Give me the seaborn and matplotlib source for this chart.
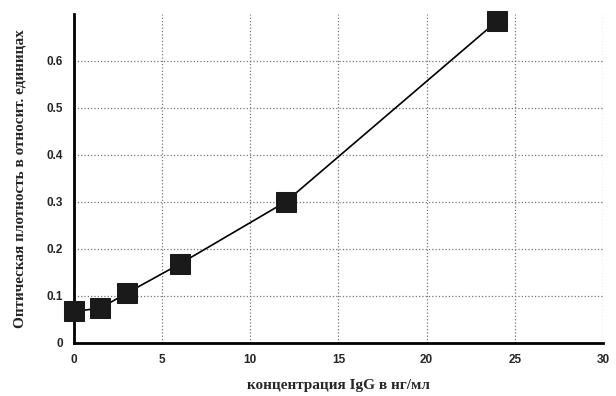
import pandas as pd
import matplotlib
matplotlib.use("Agg")
import matplotlib.pyplot as plt
import seaborn as sns

# concentration IgG (ng/ml) vs optical density
conc = [0, 1.5, 3, 6, 12, 24]
od = [0.067, 0.074, 0.106, 0.168, 0.300, 0.685]

df = pd.DataFrame({'conc': conc, 'od': od})

sns.set_style('white')
fig = plt.figure(figsize=(6.16, 3.96), dpi=100)
ax = fig.add_axes([0.120, 0.134, 0.859, 0.831])

sns.lineplot(data=df, x='conc', y='od', ax=ax, color='black', linewidth=1.2,
             marker='s', markersize=14, markerfacecolor='#1a1a1a',
             markeredgecolor='#1a1a1a', clip_on=False, zorder=5)

ax.set_xlim(0, 30)
ax.set_ylim(0, 0.7)
ax.set_xticks([0, 5, 10, 15, 20, 25, 30])
ax.set_yticks([0, 0.1, 0.2, 0.3, 0.4, 0.5, 0.6])
ax.set_yticklabels(['0', '0.1', '0.2', '0.3', '0.4', '0.5', '0.6'])
ax.grid(True, linestyle=':', color='#777777', linewidth=0.9)
ax.set_axisbelow(True)

for s in ['top', 'right']:
    ax.spines[s].set_visible(False)
for s in ['left', 'bottom']:
    ax.spines[s].set_color('black')
    ax.spines[s].set_linewidth(2)

ax.tick_params(axis='both', length=0, pad=8, labelsize=8.5)
for lbl in ax.get_xticklabels() + ax.get_yticklabels():
    lbl.set_fontweight('bold')
    lbl.set_family('Liberation Sans')

ax.set_xlabel('концентрация IgG в нг/мл', fontsize=11, fontweight='bold',
              family='Liberation Serif', labelpad=9)
ax.set_ylabel('Оптическая плотность в относит. единицах', fontsize=11,
              fontweight='bold', family='Liberation Serif', labelpad=14)

plt.savefig('out.png', dpi=100)
